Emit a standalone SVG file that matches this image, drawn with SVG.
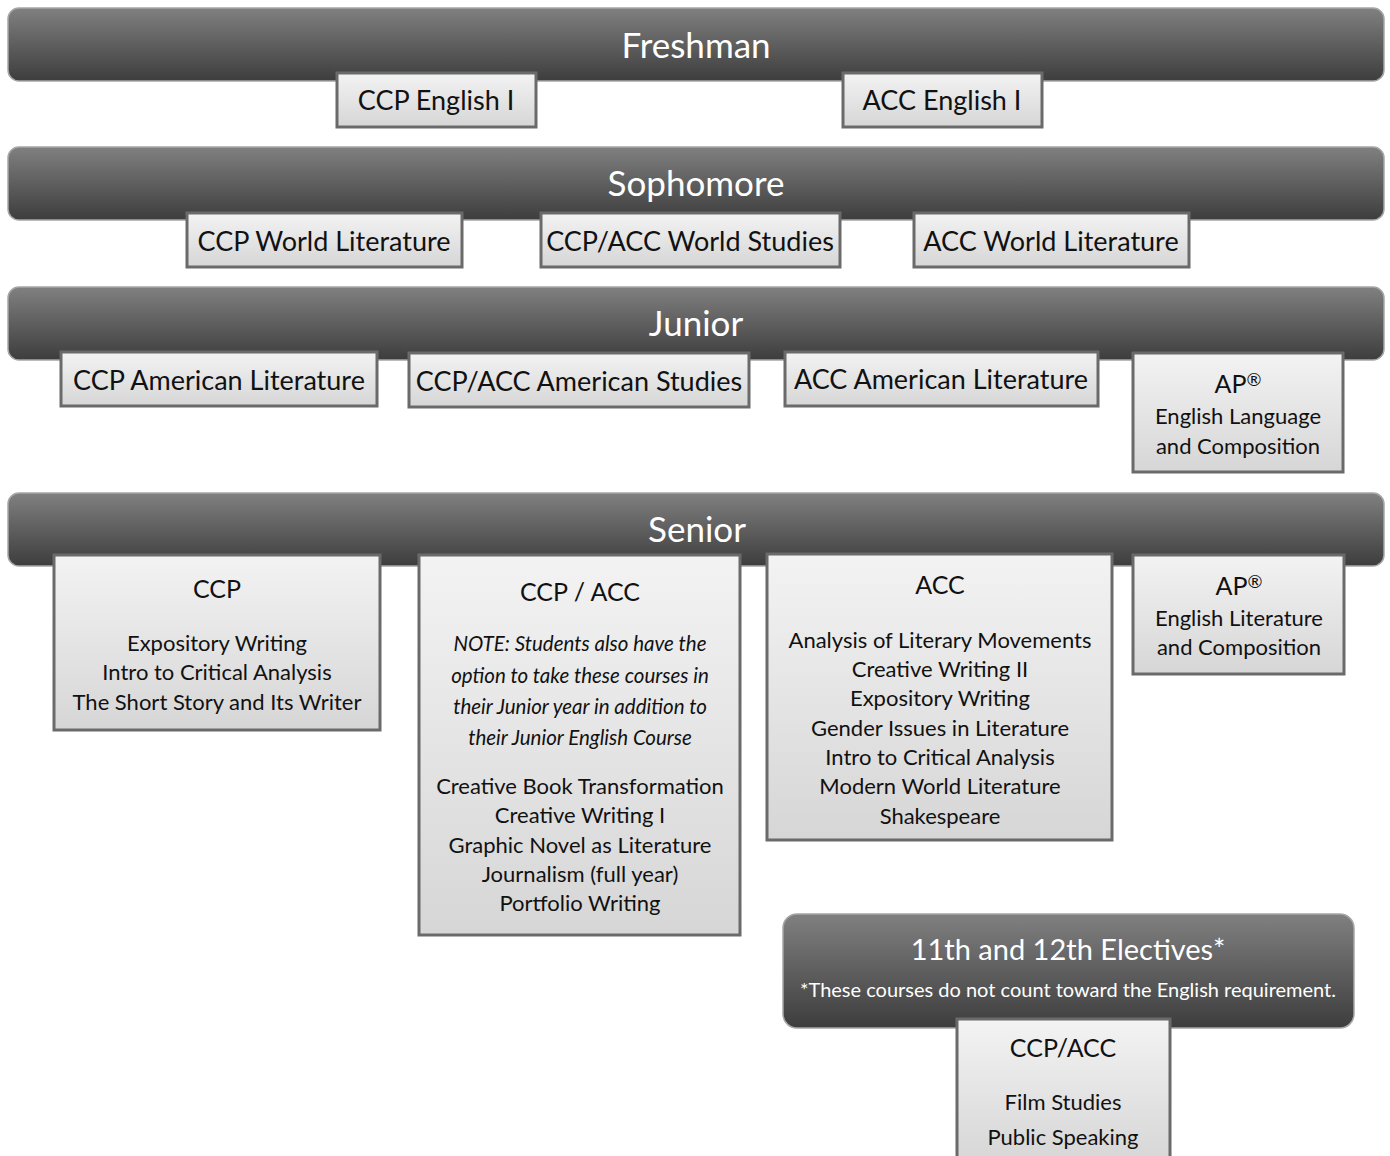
<svg xmlns="http://www.w3.org/2000/svg" width="1390" height="1156" viewBox="0 0 1390 1156">
<defs>
<linearGradient id="barG" x1="0" y1="0" x2="0" y2="1">
<stop offset="0" stop-color="#808080"/>
<stop offset="1" stop-color="#3d3d3d"/>
</linearGradient>
<linearGradient id="boxG" x1="0" y1="0" x2="0" y2="1">
<stop offset="0" stop-color="#f3f3f3"/>
<stop offset="1" stop-color="#d6d6d6"/>
</linearGradient>
</defs>
<style>
.bar{fill:url(#barG);stroke:#a6a6a6;stroke-width:1.5}
.box{fill:url(#boxG);stroke:#6a6a6a;stroke-width:3}
text{font-family:Lato,"Liberation Sans",sans-serif;text-anchor:middle;fill:#111}
.hd{fill:#fff;font-size:35px}
.bt{font-size:27px}
.st{font-size:25px}
.it{font-size:22px}
.nt{font-size:20.5px;font-style:italic}
.sup{font-size:18px}
</style>
<rect width="1390" height="1156" fill="#fff"/>
<g id="connectors"/>
<g id="freshman">
<rect class="bar" x="8" y="8" width="1376" height="73" rx="11"/>
<text class="hd" x="696" y="58">Freshman</text>
</g>
<g id="ccp-english-1">
<rect class="box" x="337" y="73" width="199" height="54"/>
<text class="bt" x="436" y="110">CCP English I</text>
</g>
<g id="acc-english-1">
<rect class="box" x="843" y="73" width="199" height="54"/>
<text class="bt" x="942" y="110">ACC English I</text>
</g>
<g id="sophomore">
<rect class="bar" x="8" y="147" width="1376" height="73" rx="11"/>
<text class="hd" x="696" y="196">Sophomore</text>
</g>
<g id="ccp-world-lit">
<rect class="box" x="187" y="213" width="275" height="54"/>
<text class="bt" x="324" y="251">CCP World Literature</text>
</g>
<g id="ccp-acc-world-studies">
<rect class="box" x="541" y="213" width="299" height="54"/>
<text class="bt" x="690" y="251">CCP/ACC World Studies</text>
</g>
<g id="acc-world-lit">
<rect class="box" x="914" y="213" width="275" height="54"/>
<text class="bt" x="1051" y="251">ACC World Literature</text>
</g>
<g id="junior">
<rect class="bar" x="8" y="287" width="1376" height="73" rx="11"/>
<text class="hd" x="696" y="336">Junior</text>
</g>
<g id="ccp-american-lit">
<rect class="box" x="61" y="352" width="316" height="54"/>
<text class="bt" x="219" y="390">CCP American Literature</text>
</g>
<g id="ccp-acc-american-studies">
<rect class="box" x="409" y="353" width="340" height="54"/>
<text class="bt" x="579" y="391">CCP/ACC American Studies</text>
</g>
<g id="acc-american-lit">
<rect class="box" x="785" y="352" width="313" height="54"/>
<text class="bt" x="941" y="389">ACC American Literature</text>
</g>
<g id="ap-english-language">
<rect class="box" x="1133" y="353" width="210" height="119"/>
<text class="st" x="1238" y="393">AP<tspan class="sup" dy="-7">®</tspan></text>
<text class="it" x="1238" y="424">English Language</text>
<text class="it" x="1238" y="454">and Composition</text>
</g>
<g id="senior">
<rect class="bar" x="8" y="493" width="1376" height="73" rx="11"/>
<text class="hd" x="697" y="542">Senior</text>
</g>
<g id="senior-ccp">
<rect class="box" x="54" y="555" width="326" height="175"/>
<text class="st" x="217" y="598">CCP</text>
<text class="it" x="217" y="651">Expository Writing</text>
<text class="it" x="217" y="680">Intro to Critical Analysis</text>
<text class="it" x="217" y="710">The Short Story and Its Writer</text>
</g>
<g id="senior-ccp-acc">
<rect class="box" x="419" y="555" width="321" height="380"/>
<text class="st" x="580" y="601">CCP / ACC</text>
<text class="nt" x="580" y="651">NOTE: Students also have the</text>
<text class="nt" x="580" y="683">option to take these courses in</text>
<text class="nt" x="580" y="714">their Junior year in addition to</text>
<text class="nt" x="580" y="745">their Junior English Course</text>
<text class="it" x="580" y="794">Creative Book Transformation</text>
<text class="it" x="580" y="823">Creative Writing I</text>
<text class="it" x="580" y="853">Graphic Novel as Literature</text>
<text class="it" x="580" y="882">Journalism (full year)</text>
<text class="it" x="580" y="911">Portfolio Writing</text>
</g>
<g id="senior-acc">
<rect class="box" x="767" y="554" width="345" height="286"/>
<text class="st" x="940" y="594">ACC</text>
<text class="it" x="940" y="648">Analysis of Literary Movements</text>
<text class="it" x="940" y="677">Creative Writing II</text>
<text class="it" x="940" y="706">Expository Writing</text>
<text class="it" x="940" y="736">Gender Issues in Literature</text>
<text class="it" x="940" y="765">Intro to Critical Analysis</text>
<text class="it" x="940" y="794">Modern World Literature</text>
<text class="it" x="940" y="824">Shakespeare</text>
</g>
<g id="ap-english-literature">
<rect class="box" x="1133" y="555" width="211" height="119"/>
<text class="st" x="1239" y="595">AP<tspan class="sup" dy="-7">®</tspan></text>
<text class="it" x="1239" y="626">English Literature</text>
<text class="it" x="1239" y="655">and Composition</text>
</g>
<g id="electives">
<rect class="bar" x="783" y="914" width="571" height="114" rx="14"/>
<text class="hd" x="1068" y="960" style="font-size:29px">11th and 12th Electives*</text>
<text x="1068" y="997" style="fill:#fff;font-size:20px">*These courses do not count toward the English requirement.</text>
</g>
<g id="electives-ccp-acc">
<rect class="box" x="957" y="1019" width="213" height="145"/>
<text class="st" x="1063" y="1057">CCP/ACC</text>
<text class="it" x="1063" y="1110">Film Studies</text>
<text class="it" x="1063" y="1145">Public Speaking</text>
</g>
</svg>
